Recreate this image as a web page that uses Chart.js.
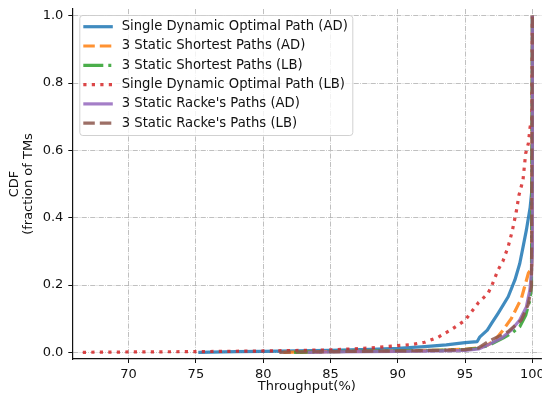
<!DOCTYPE html>
<html>
<head>
<meta charset="utf-8">
<script src="https://cdn.jsdelivr.net/npm/chart.js@4.4.0/dist/chart.umd.min.js"></script>
<style>
  html, body { margin: 0; padding: 0; overflow: hidden; background: #fff; }
</style>
</head>
<body>
<canvas id="cdfChart" width="542" height="401"></canvas>
<script>
// Throughput (%) vs. CDF of traffic matrices, one curve per routing scheme
const xTicks = [70, 75, 80, 85, 90, 95, 100];
const yTicks = [0, 0.2, 0.4, 0.6, 0.8, 1.0];

const labels = [
    'Single Dynamic Optimal Path (AD)',
    '3 Static Shortest Paths (AD)',
    '3 Static Shortest Paths (LB)',
    'Single Dynamic Optimal Path (LB)',
    "3 Static Racke's Paths (AD)",
    "3 Static Racke's Paths (LB)"
];

const optAdX = [75.18, 78, 80, 85, 88, 90, 92, 93.6, 95, 95.9, 96.1, 96.65, 97.0, 97.45, 98.2, 98.7, 99.06, 99.31, 99.55, 99.83, 99.98, 100];
const optAdY = [0, 0.002, 0.003, 0.006, 0.009, 0.012, 0.017, 0.022, 0.029, 0.032, 0.046, 0.066, 0.088, 0.116, 0.165, 0.215, 0.264, 0.314, 0.363, 0.43, 0.49, 1.0];

const shortAdX = [81.5, 85, 90, 93, 95, 96, 96.7, 97.3, 97.82, 98.44, 98.94, 99.18, 99.7, 99.95, 100];
const shortAdY = [0, 0.002, 0.004, 0.006, 0.009, 0.013, 0.022, 0.04, 0.066, 0.101, 0.141, 0.16, 0.235, 0.25, 1.0];

const shortLbX = [82.3, 85, 90, 93, 95, 96, 96.7, 97.82, 98.5, 99.06, 99.5, 99.81, 99.93, 100];
const shortLbY = [0, 0.002, 0.004, 0.006, 0.008, 0.012, 0.02, 0.042, 0.058, 0.076, 0.11, 0.155, 0.2, 1.0];

const optLbX = [66.6, 70, 75, 80, 85, 88, 90, 91, 92, 93, 94, 95, 96, 96.7, 97.0, 97.45, 97.8, 98.2, 98.5, 98.8, 99.0, 99.3, 99.5, 99.7, 99.83, 99.96, 100];
const optLbY = [0, 0.001, 0.002, 0.004, 0.007, 0.013, 0.02, 0.023, 0.03, 0.045, 0.068, 0.095, 0.148, 0.175, 0.2, 0.245, 0.27, 0.314, 0.36, 0.418, 0.467, 0.512, 0.591, 0.621, 0.67, 0.69, 1.0];

const rackeAdX = [83.3, 85, 90, 93, 95, 96, 96.71, 97.7, 98.44, 99.06, 99.55, 99.81, 99.93, 100, 100];
const rackeAdY = [0, 0.001, 0.003, 0.004, 0.006, 0.01, 0.022, 0.042, 0.066, 0.096, 0.135, 0.185, 0.235, 0.3, 1.0];

const rackeLbX = [81.2, 85, 90, 93, 95, 96, 96.71, 98.19, 99.18, 99.68, 99.93, 100];
const rackeLbY = [0, 0.002, 0.004, 0.006, 0.008, 0.013, 0.032, 0.061, 0.096, 0.141, 0.195, 1.0];

const seriesX = [optAdX, shortAdX, shortLbX, optLbX, rackeAdX, rackeLbX];
const seriesY = [optAdY, shortAdY, shortLbY, optLbY, rackeAdY, rackeLbY];

const colors = [
    'rgba(31, 119, 180, 0.85)',
    'rgba(255, 127, 14, 0.85)',
    'rgba(44, 160, 44, 0.85)',
    'rgba(214, 39, 40, 0.85)',
    'rgba(148, 103, 189, 0.85)',
    'rgba(140, 86, 75, 0.85)'
];
const dashes = [[], [11.5, 5], [20, 5, 3, 5], [3.2, 5.3], [], [11.5, 5]];

const LW = 3.2;

Chart.defaults.font.family = "'DejaVu Sans', sans-serif";
Chart.defaults.font.size = 13;
Chart.defaults.color = '#111';

// later series are painted over earlier ones
const datasets = labels.map((label, i) => ({
    label: label,
    data: seriesX[i].map((x, j) => ({ x: x, y: seriesY[i][j] })),
    order: labels.length - i,
    showLine: true,
    borderColor: colors[i],
    backgroundColor: colors[i],
    borderWidth: LW,
    borderDash: dashes[i],
    borderCapStyle: 'butt',
    borderJoinStyle: 'round',
    pointRadius: 0,
    pointHoverRadius: 0,
    tension: 0,
    fill: false
}));

// legend sitting inside the plot, top-left corner
const insideLegend = {
    id: 'insideLegend',
    afterDraw(chart) {
        const ctx = chart.ctx;
        const area = chart.chartArea;
        const bx = area.left + 7;
        const by = area.top + 6;
        const bw = 273;
        const bh = 120;
        const rowH = 19.3;

        ctx.save();
        ctx.beginPath();
        ctx.roundRect(bx + 0.5, by + 0.5, bw, bh, 3);
        ctx.fillStyle = 'rgba(255, 255, 255, 0.8)';
        ctx.fill();
        ctx.lineWidth = 1;
        ctx.strokeStyle = 'rgba(204, 204, 204, 0.9)';
        ctx.stroke();

        chart.data.datasets.forEach((ds, i) => {
            const cy = by + 11.7 + i * rowH;
            ctx.beginPath();
            ctx.setLineDash(ds.borderDash);
            ctx.lineCap = 'butt';
            ctx.lineWidth = LW;
            ctx.strokeStyle = ds.borderColor;
            ctx.moveTo(bx + 4, cy);
            ctx.lineTo(bx + 33.5, cy);
            ctx.stroke();

            ctx.setLineDash([]);
            ctx.fillStyle = '#111';
            ctx.font = "13.2px 'DejaVu Sans'";
            ctx.textAlign = 'left';
            ctx.textBaseline = 'middle';
            ctx.fillText(ds.label, bx + 42.4, cy);
        });
        ctx.restore();
    }
};

const gridDash = [5.1, 1.3, 0.8, 1.3];

new Chart(document.getElementById('cdfChart'), {
    type: 'scatter',
    data: { datasets: datasets },
    options: {
        responsive: false,
        animation: false,
        events: [],
        layout: { padding: { top: 9, left: 0, right: 0.7, bottom: 0 } },
        plugins: {
            legend: { display: false },
            tooltip: { enabled: false }
        },
        scales: {
            x: {
                type: 'linear',
                min: 65.82,
                max: 100.66,
                afterBuildTicks: scale => {
                    scale.ticks = xTicks.map(v => ({ value: v }));
                },
                afterFit: scale => {
                    scale.height = 42;
                    scale.paddingLeft = 0;
                    scale.paddingRight = 0;
                },
                ticks: {
                    padding: 4,
                    maxRotation: 0,
                    autoSkip: false,
                    callback: v => String(v)
                },
                grid: {
                    color: '#b0b0b0',
                    lineWidth: 0.8,
                    tickColor: '#111',
                    tickLength: 4,
                    tickWidth: 1,
                    tickBorderDash: []
                },
                border: { color: '#111', width: 1.2, dash: gridDash },
                title: {
                    display: true,
                    text: 'Throughput(%)',
                    padding: { top: 0, bottom: 7 }
                }
            },
            y: {
                type: 'linear',
                min: -0.0199,
                max: 1.0202,
                afterBuildTicks: scale => {
                    scale.ticks = yTicks.map(v => ({ value: v }));
                },
                afterFit: scale => {
                    scale.width = 72.3;
                    scale.paddingTop = 0;
                    scale.paddingBottom = 0;
                },
                ticks: {
                    padding: 5,
                    autoSkip: false,
                    callback: v => v.toFixed(1)
                },
                grid: {
                    color: '#b0b0b0',
                    lineWidth: 0.8,
                    tickColor: '#111',
                    tickLength: 4,
                    tickWidth: 1,
                    tickBorderDash: []
                },
                border: { color: '#111', width: 1.2, dash: gridDash },
                title: {
                    display: true,
                    text: ['CDF', '(fraction of TMs'],
                    font: { size: 13, lineHeight: 1.08 },
                    padding: { top: 7.5, bottom: 0 }
                }
            }
        }
    },
    plugins: [insideLegend]
});
</script>
</body>
</html>
